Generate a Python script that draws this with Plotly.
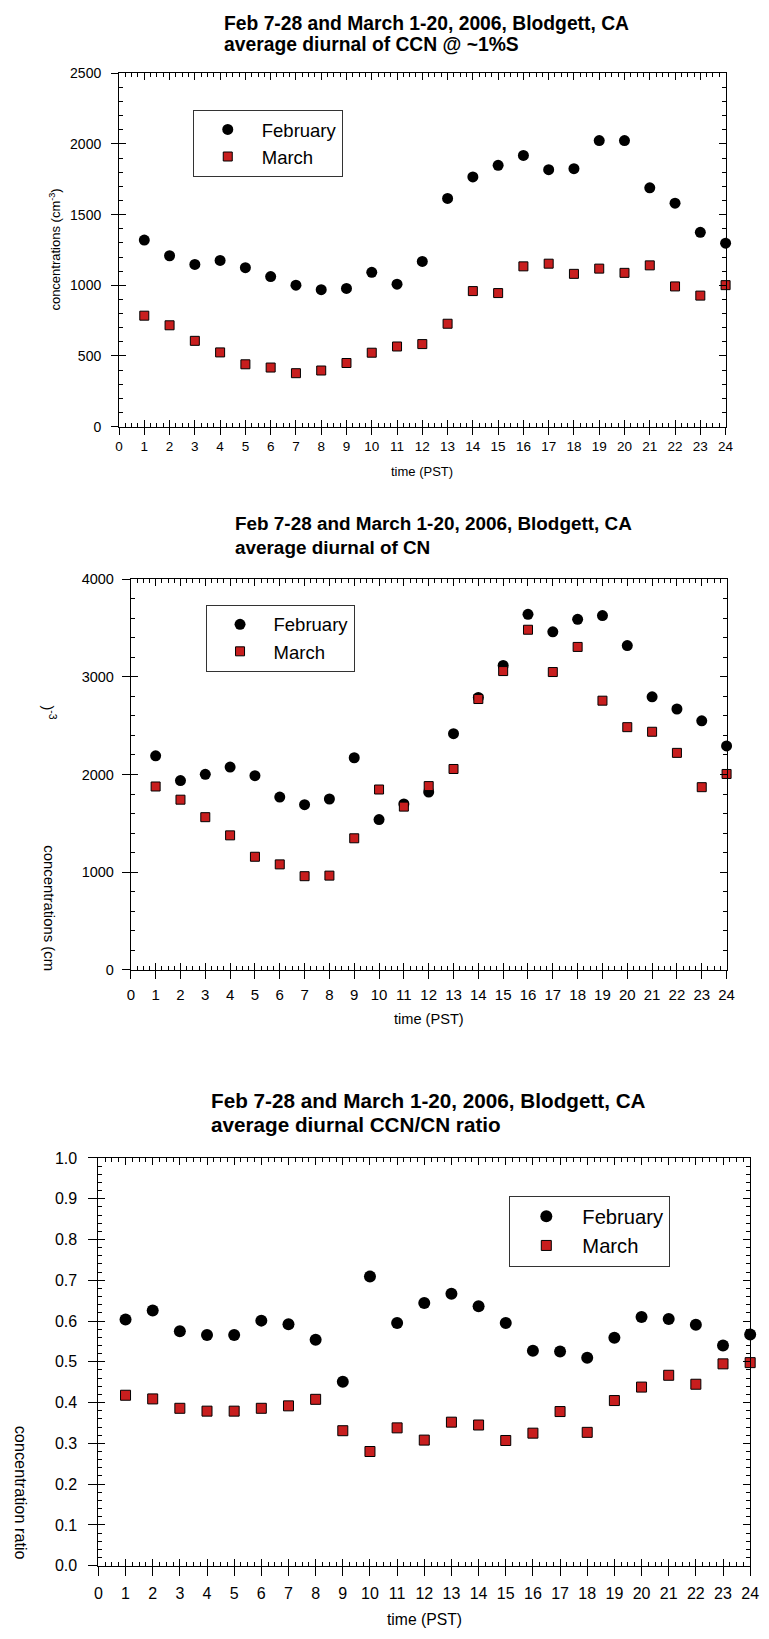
import plotly.graph_objects as go

hours = list(range(1, 25))

ccn_feb = [1320, 1209, 1148, 1176, 1125, 1062, 1001, 969, 978, 1092, 1008, 1169,
           1615, 1767, 1849, 1919, 1818, 1825, 2024, 2024, 1690, 1581, 1375, 1298]
ccn_mar = [785, 717, 607, 525, 441, 418, 378, 397, 450, 523, 567, 584,
           728, 959, 945, 1134, 1153, 1081, 1118, 1088, 1141, 992, 927, 1001]

cn_feb = [2191, 1938, 2002, 2076, 1988, 1769, 1691, 1749, 2171, 1539, 1698, 1820,
          2417, 2788, 3116, 3639, 3460, 3588, 3626, 3319, 2795, 2670, 2549, 2292]
cn_mar = [1877, 1742, 1563, 1377, 1158, 1080, 959, 965, 1347, 1846, 1671, 1881,
          2056, 2772, 3058, 3481, 3048, 3305, 2755, 2484, 2437, 2221, 1870, 2005]

ratio_feb = [0.604, 0.626, 0.575, 0.566, 0.566, 0.601, 0.592, 0.554, 0.451, 0.709, 0.595, 0.644,
             0.667, 0.636, 0.595, 0.527, 0.525, 0.510, 0.559, 0.610, 0.605, 0.591, 0.540, 0.567]
ratio_mar = [0.418, 0.409, 0.386, 0.379, 0.379, 0.386, 0.392, 0.408, 0.331, 0.280, 0.338, 0.308,
             0.352, 0.345, 0.307, 0.325, 0.378, 0.327, 0.405, 0.438, 0.467, 0.445, 0.495, 0.498]

title_line1 = "Feb 7-28 and March 1-20, 2006, Blodgett, CA"
title_line2 = ["average diurnal of CCN @ ~1%S", "average diurnal of CN", "average diurnal CCN/CN ratio"]
series_names = ["February", "March"]

W, H = 769, 1639
FONT = "Liberation Sans, Arial, sans-serif"
RED = "#C81E1E"


def px_x(v):
    return v / W


def px_y(v):
    return 1 - v / H


# panel geometry in pixels: left, right, top, bottom
panels = [
    dict(l=117, r=734, t=66, b=423, yr=[0, 2500], ydt=500, ymin=100, tickfont=14, xtickfont=13.5,
         data=(ccn_feb, ccn_mar), msize_c=11, msize_s=9, legfont=18.5, iw=58, ew=88, outlen=7,
         leg=(192, 103), title=(222, 15.5, 37, 19.3), xlab=(468, 13), ystand=7, xstand=0),
    dict(l=129, r=735, t=577, b=972, yr=[0, 4000], ydt=1000, ymin=200, tickfont=14.5, xtickfont=15,
         data=(cn_feb, cn_mar), msize_c=11, msize_s=9, legfont=18.5, iw=57, ew=86, outlen=8,
         leg=(205, 603), title=(233, 521, 545, 18.9), xlab=(1022, 14.6), ystand=5, xstand=3),
    dict(l=96, r=759, t=1162, b=1574, yr=[0, 1.0], ydt=0.1, ymin=0.02, tickfont=16, xtickfont=16,
         data=(ratio_feb, ratio_mar), msize_c=12, msize_s=10, legfont=20.2, iw=62, ew=96, outlen=9,
         leg=(514, 1200), title=(209, 1104, 1128, 20.7), xlab=(1628, 15.7), ystand=8, xstand=4),
]

fig = go.Figure()
layout = dict(width=W, height=H, margin=dict(l=0, r=0, t=0, b=0),
              paper_bgcolor="white", plot_bgcolor="white", showlegend=True,
              font=dict(family=FONT, color="black"))
annotations = []

for i, p in enumerate(panels):
    n = i + 1
    ov = i + 4
    xs = "" if n == 1 else str(n)
    xd = [px_x(p["l"]), px_x(p["r"])]
    yd = [px_y(p["b"]), px_y(p["t"])]
    leg_id = "legend" if n == 1 else f"legend{n}"
    feb, mar = p["data"]
    fig.add_trace(go.Scatter(x=hours, y=feb, mode="markers", name=series_names[0],
                             xaxis=f"x{xs}", yaxis=f"y{xs}", legend=leg_id, cliponaxis=False,
                             marker=dict(symbol="circle", size=p["msize_c"], color="black",
                                         line=dict(width=0))))
    fig.add_trace(go.Scatter(x=hours, y=mar, mode="markers", name=series_names[1],
                             xaxis=f"x{xs}", yaxis=f"y{xs}", legend=leg_id, cliponaxis=False,
                             marker=dict(symbol="square", size=p["msize_s"], color=RED,
                                         line=dict(width=1, color="black"))))
    # invisible trace so the overlay tick axes are drawn
    fig.add_trace(go.Scatter(x=[], y=[], xaxis=f"x{ov}", yaxis=f"y{ov}", showlegend=False,
                             hoverinfo="skip"))

    common_x = dict(domain=xd, range=[0, 24], dtick=1, tick0=0, linecolor="black", linewidth=1,
                    showgrid=False, zeroline=False)
    common_y = dict(domain=yd, range=p["yr"], dtick=p["ydt"], tick0=0, linecolor="black", linewidth=1,
                    showgrid=False, zeroline=False)
    # main axes: labels + outside major stubs, box line
    layout[f"xaxis{xs}"] = dict(**common_x, anchor=f"y{xs}", showline=True, mirror=True,
                                ticks="outside", ticklen=p["outlen"], tickcolor="black", tickwidth=1,
                                tickfont=dict(size=p["xtickfont"], family=FONT, color="black"),
                                ticklabelstandoff=p["xstand"])
    yfmt = ".1f" if n == 3 else "d"
    layout[f"yaxis{xs}"] = dict(**common_y, anchor=f"x{xs}", showline=True, mirror=True,
                                ticks="outside", ticklen=p["outlen"], tickcolor="black", tickwidth=1,
                                tickformat=yfmt,
                                tickfont=dict(size=p["tickfont"], family=FONT, color="black"),
                                ticklabelstandoff=p["ystand"])
    # overlay axes: inside major + minor ticks, mirrored on top/right
    layout[f"xaxis{ov}"] = dict(**common_x, anchor=f"y{ov}", overlaying=f"x{xs}", showline=False,
                                ticks="inside", ticklen=7, tickcolor="black", tickwidth=1,
                                mirror="ticks", showticklabels=False,
                                minor=dict(ticks="inside", ticklen=4, dtick=0.25, tickcolor="black",
                                           tickwidth=1, showgrid=False))
    layout[f"yaxis{ov}"] = dict(**common_y, anchor=f"x{ov}", overlaying=f"y{xs}", showline=False,
                                ticks="inside", ticklen=7, tickcolor="black", tickwidth=1,
                                mirror="ticks", showticklabels=False,
                                minor=dict(ticks="inside", ticklen=4, dtick=p["ymin"], tickcolor="black",
                                           tickwidth=1, showgrid=False))
    # legend
    lx, ly = p["leg"]
    layout[leg_id] = dict(x=px_x(lx), y=px_y(ly), xanchor="left", yanchor="top",
                          bordercolor="#333333", borderwidth=1, bgcolor="white",
                          font=dict(size=p["legfont"], family=FONT, color="black"),
                          itemwidth=p["iw"], tracegroupgap=0,
                          entrywidth=p["ew"], entrywidthmode="pixels")
    # title lines
    tx, ty1, ty2, tfs = p["title"]
    annotations.append(dict(text=f"<b>{title_line1}</b>", xref="paper", yref="paper",
                            x=px_x(tx), y=px_y(ty1), xanchor="left", yanchor="middle",
                            showarrow=False, font=dict(size=tfs, family=FONT, color="black")))
    annotations.append(dict(text=f"<b>{title_line2[i]}</b>", xref="paper", yref="paper",
                            x=px_x(tx), y=px_y(ty2), xanchor="left", yanchor="middle",
                            showarrow=False, font=dict(size=tfs, family=FONT, color="black")))
    # x axis title
    xly, xlf = p["xlab"]
    annotations.append(dict(text="time (PST)", xref="paper", yref="paper",
                            x=px_x((p["l"] + p["r"]) / 2), y=px_y(xly), xanchor="center",
                            yanchor="middle", showarrow=False,
                            font=dict(size=xlf, family=FONT, color="black")))

# y axis titles
annotations.append(dict(text="concentrations (cm<sup>-3</sup>)", xref="paper", yref="paper",
                        x=px_x(52), y=px_y(244), textangle=-90, xanchor="center", yanchor="middle",
                        showarrow=False, font=dict(size=13, family=FONT, color="black")))
annotations.append(dict(text="concentrations (cm", xref="paper", yref="paper",
                        x=px_x(46), y=px_y(910), textangle=90, xanchor="center", yanchor="middle",
                        showarrow=False, font=dict(size=14.9, family=FONT, color="black")))
annotations.append(dict(text=")<sup>-3</sup>", xref="paper", yref="paper",
                        x=px_x(46), y=px_y(712), textangle=90, xanchor="center", yanchor="middle",
                        showarrow=False, font=dict(size=14.9, family=FONT, color="black")))
annotations.append(dict(text="concentration ratio", xref="paper", yref="paper",
                        x=px_x(17), y=px_y(1500), textangle=90, xanchor="center", yanchor="middle",
                        showarrow=False, font=dict(size=16.3, family=FONT, color="black")))

layout["annotations"] = annotations
fig.update_layout(**layout)
fig.write_html("out.html")
